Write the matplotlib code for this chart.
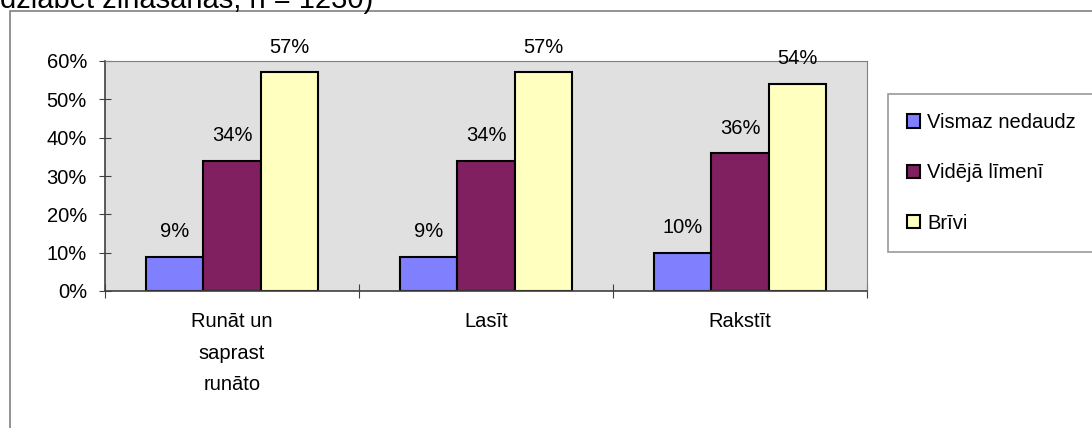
import numpy as np
import matplotlib.pyplot as plt
from matplotlib.patches import Rectangle
from matplotlib.ticker import PercentFormatter

plt.rcParams['font.family'] = ['Liberation Sans', 'DejaVu Sans']

categories = ['Runāt un\nsaprast\nrunāto', 'Lasīt', 'Rakstīt']
series_names = ['Vismaz nedaudz', 'Vidējā līmenī', 'Brīvi']
vismaz = [9, 9, 10]
videja = [34, 34, 36]
brivi = [57, 57, 54]
colors = ['#8080FF', '#802060', '#FFFFC0']

FS = 14.5

fig = plt.figure(figsize=(10.92, 4.28), dpi=100)

# outer chart frame (cut off at right and bottom)
fig.patches.append(Rectangle((10 / 1092, -0.1), 1.2, 1 - 11 / 428 + 0.1,
                             transform=fig.transFigure, fill=False,
                             edgecolor='#808080', linewidth=1.2))

# title, mostly cut off by the top edge (as in the source image)
fig.text(0.0, 1 - 8 / 428, 'dziabet zināšanas, n = 1230)', fontsize=21,
         ha='left', va='baseline')

ax = fig.add_axes([105 / 1092, 1 - 291 / 428, 762 / 1092, 230 / 428])
ax.set_facecolor('#E0E0E0')

x = np.arange(len(categories))
w = 0.226
data = [vismaz, videja, brivi]
for i, (vals, c, name) in enumerate(zip(data, colors, series_names)):
    bars = ax.bar(x + (i - 1) * w, vals, w, color=c, edgecolor='black',
                  linewidth=1.5, label=name)
    for b, v in zip(bars, vals):
        ax.annotate(f'{v}%', (b.get_x() + b.get_width() / 2, v),
                    xytext=(0, 18), textcoords='offset points',
                    ha='center', va='center', fontsize=FS)

ax.set_xlim(-0.5, 2.5)
ax.set_ylim(0, 60)
ax.set_yticks(range(0, 61, 10))
ax.yaxis.set_major_formatter(PercentFormatter(decimals=0))
ax.set_xticks([-0.5, 0.5, 1.5, 2.5])
ax.set_xticklabels([])
ax.set_xticks(x, minor=True)
ax.set_xticklabels(categories, minor=True, fontsize=FS, linespacing=1.85,
                   va='top')
ax.tick_params(axis='x', which='minor', length=0, pad=15)
ax.tick_params(axis='x', which='major', direction='inout', length=10,
               color='#404040')
ax.tick_params(axis='y', direction='inout', length=8, labelsize=FS,
               color='#404040', pad=9)

for s in ['top', 'right']:
    ax.spines[s].set_color('#808080')
for s in ['left', 'bottom']:
    ax.spines[s].set_color('#404040')
    ax.spines[s].set_linewidth(1.2)

leg = fig.legend(loc='upper left', bbox_to_anchor=(888 / 1092, 1 - 94 / 428),
                 frameon=True, fancybox=False, edgecolor='#808080',
                 fontsize=FS, handlelength=0.65, handleheight=0.65,
                 handletextpad=0.35, labelspacing=1.55, borderpad=0.95,
                 borderaxespad=0)
leg.get_frame().set_linewidth(1.2)

fig.savefig('out.png', dpi=100)
